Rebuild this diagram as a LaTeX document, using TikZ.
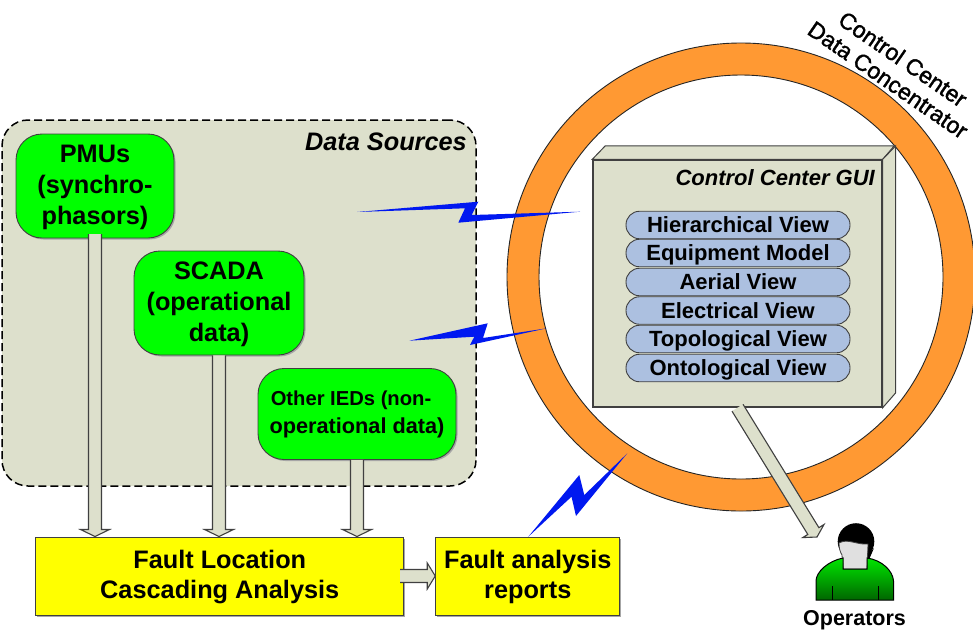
\documentclass[tikz,border=0pt]{standalone}
\usepackage{fontspec}
\setmainfont{Liberation Sans}
\newfontfamily\ringfont[FakeBold=1.5]{Liberation Sans}
\usetikzlibrary{calc,shadows}
\definecolor{beige}{HTML}{DDE0CC}
\definecolor{ringor}{HTML}{FF9933}
\definecolor{pill}{HTML}{ACC0E0}
\definecolor{edge}{HTML}{404040}
\definecolor{bolt}{HTML}{0018F0}
\definecolor{boxyellow}{rgb}{1,1,0}
\definecolor{boxgreen}{rgb}{0,1,0}
\newcommand{\lowerstrut}{\rule{0pt}{20pt}}
\tikzset{
  softshadow/.style={general shadow={shadow xshift=1.5pt,shadow yshift=-1.5pt,fill=black!35}},
  srcbox/.style={draw=edge,line width=0.9pt,fill=boxgreen,rounded corners=26pt,inner sep=0pt,align=center,softshadow,font=\fontsize{25.3}{31}\selectfont\bfseries},
  yellowbox/.style={draw=edge,line width=1pt,fill=boxyellow,inner sep=0pt,align=center,softshadow,font=\fontsize{25.3}{30.5}\selectfont\bfseries},
  viewpill/.style={draw=edge,line width=0.9pt,fill=pill,rounded corners=13.5pt,minimum width=224pt,minimum height=27.5pt,inner sep=0pt,text height=18pt,text depth=2.5pt,font=\fontsize{22}{26}\selectfont\bfseries},
  blockfill/.style={draw=edge,line width=1.1pt,fill=beige,line join=miter},
  boltshape/.style={fill=bolt,draw=none},
  titletext/.style={inner sep=0pt,font=\fontsize{25.3}{30}\selectfont\bfseries\itshape},
  ringlabel/.style={inner sep=0pt,rotate=-34.5,font=\fontsize{23}{27}\selectfont\ringfont},
}
\newcommand{\blockarrow}[5]{%
  \coordinate (ba-h) at ($(#2)!#3!(#1)$);
  \fill[beige] ($(#1)!#4!90:(#2)$) -- ($(ba-h)!#4!90:(#2)$) -- ($(ba-h)!#5!90:(#2)$) -- (#2) -- ($(ba-h)!#5!-90:(#2)$) -- ($(ba-h)!#4!-90:(#2)$) -- ($(#1)!#4!-90:(#2)$) -- cycle;
  \draw[blockfill,fill=none] ($(#1)!#4!90:(#2)$) -- ($(ba-h)!#4!90:(#2)$) -- ($(ba-h)!#5!90:(#2)$) -- (#2) -- ($(ba-h)!#5!-90:(#2)$) -- ($(ba-h)!#4!-90:(#2)$) -- ($(#1)!#4!-90:(#2)$);
}
\begin{document}
\begin{tikzpicture}[x=1pt,y=-1pt]
\clip (0,0) rectangle (973,630);
\fill[white] (0,0) rectangle (973,630);
% data sources panel
\node[draw=black,line width=1.5pt,dash pattern=on 8pt off 4pt,fill=beige,rounded corners=26pt,minimum width=474pt,minimum height=366pt,inner sep=0pt] (panel) at (239,303) {};
\node[titletext,anchor=east] (paneltitle) at (467,142) {Data Sources};
% ring
\fill[ringor,even odd rule,draw=black!85,line width=0.9pt] (741,277) circle (234) (741,277) circle (202);
% ring labels
\node[ringlabel] (lblcc) at (903,59) {Control Center};
\node[ringlabel] (lbldc) at (888,80) {Data Concentrator};
% sources
\node[srcbox,minimum width=158pt,minimum height=104pt] (pmu) at (95,186) {\lowerstrut PMUs\\(synchro-\\phasors)};
\node[srcbox,minimum width=170pt,minimum height=104pt] (scada) at (219,303) {\lowerstrut SCADA\\(operational\\data)};
\node[srcbox,minimum width=198pt,minimum height=91pt,font=\fontsize{21.7}{28}\selectfont\bfseries] (other) at (357,414) {\kern-12pt{\fontsize{20.2}{28}\selectfont Other IEDs (non-}\\operational data)};
% output boxes
\node[yellowbox,minimum width=368pt,minimum height=78pt] (fault) at (219.75,576) {\lowerstrut Fault Location\\Cascading Analysis};
\node[yellowbox,minimum width=184pt,minimum height=78pt] (reports) at (527.75,576) {\lowerstrut Fault analysis\\reports};
% GUI box
\node[draw=edge,line width=1.4pt,fill=beige,minimum width=289pt,minimum height=247pt,inner sep=0pt] (gui) at (737.5,283.5) {};
\draw[edge,line width=1pt,fill=beige] (gui.north west) -- ++(13,-13.5) -- ++(289,0) -- (gui.north east) -- cycle;
\draw[edge,line width=1pt,fill=beige] (gui.north east) -- ++(13,-13.5) -- ++(0,247) -- (gui.south east) -- cycle;
\node[inner sep=0pt,anchor=east,font=\fontsize{22}{26}\selectfont\bfseries\itshape] (guititle) at (875,178) {Control Center GUI};
\node[viewpill] (v1) at (738,225) {Hierarchical View};
\node[viewpill] (v2) at (738,253) {Equipment Model};
\node[viewpill] (v3) at (738,282) {Aerial View};
\node[viewpill] (v4) at (738,310.5) {Electrical View};
\node[viewpill] (v5) at (738,339) {Topological View};
\node[viewpill] (v6) at (738,368) {Ontological View};
% block arrows
\coordinate (pmustart) at (95,234);
\coordinate (repin) at (reports.west);
\coordinate (fltout) at (400,576);
\coordinate (optip) at (817,537);
\blockarrow{pmustart}{pmu.south |- fault.north}{7pt}{6.5pt}{14.5pt}
\blockarrow{scada.south}{scada.south |- fault.north}{7pt}{6.5pt}{14.5pt}
\blockarrow{other.south}{other.south |- fault.north}{7pt}{6.5pt}{14.5pt}
\blockarrow{fltout}{repin}{8pt}{6.5pt}{13pt}
\blockarrow{gui.south}{optip}{7pt}{6.5pt}{12.5pt}
% lightning bolts
\fill[boltshape] (357,212) -- (465,208.3) -- (458.3,222.7) -- (580,211.7) -- (471.7,215) -- (478.3,201.7) -- cycle;
\fill[boltshape] (409.3,340.7) -- (474.3,336.7) -- (470,345) -- (546.7,328.3) -- (483,338) -- (487.7,323.3) -- cycle;
\fill[boltshape] (528.3,536.7) -- (579.3,475) -- (584.3,495) -- (627.3,453.3) -- (576,516) -- (571.5,496.7) -- cycle;
% operator figure
\fill[black] (856,541.5) circle (18.3);
\fill[black] (866,556) -- (874,548) -- (868,562) -- cycle;
\draw[edge,line width=0.8pt,fill=black!12] (839,543) .. controls (848,538) and (856,545) .. (868,544) -- (867,569) -- (843,569) -- (842,555) .. controls (840,552) and (839,548) .. (839,543) -- cycle;
\path[draw=black,line width=1pt,top color=boxgreen!90!black,bottom color=boxgreen!40!black] (843,558) .. controls (828,561) and (816,572) .. (816,581) -- (816,600) -- (893.5,600) -- (893.5,581) .. controls (893,571) and (882,560) .. (867,558) -- (867,569) -- (843,569) -- cycle;
\draw[black,line width=0.8pt] (832,586) -- (832,600) (878,586) -- (878,600);
\node[inner sep=0pt,font=\fontsize{21.5}{26}\selectfont\bfseries] (oplabel) at (854.5,620) {Operators};
\end{tikzpicture}
\end{document}
